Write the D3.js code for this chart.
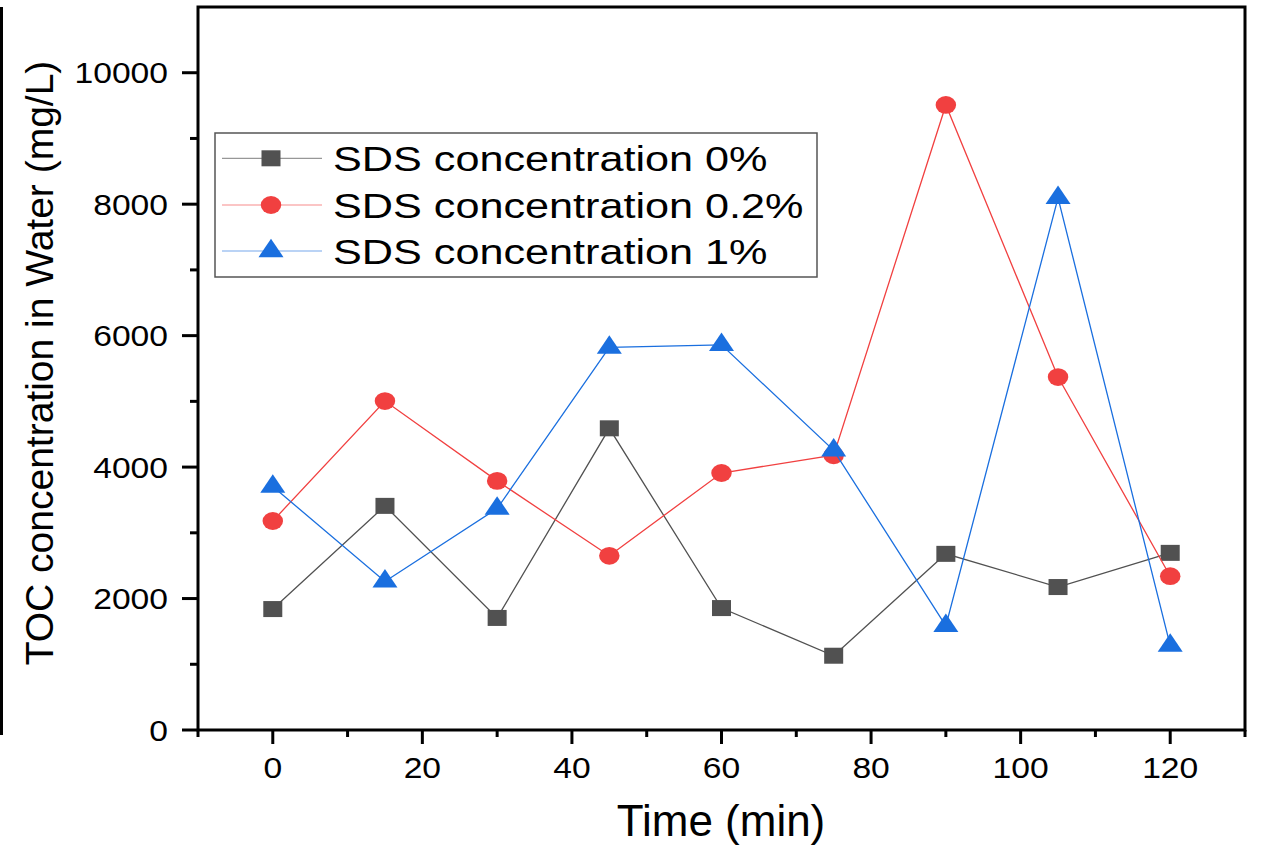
<!DOCTYPE html>
<html>
<head>
<meta charset="utf-8">
<script src="https://cdn.jsdelivr.net/npm/d3@7"></script>
<style>
  html, body { margin: 0; padding: 0; background: #fff; }
  svg { display: block; }
  text { font-family: "Liberation Sans", Arial, sans-serif; fill: #000; }
</style>
</head>
<body>
<svg id="chart" width="1261" height="847"></svg>
<script>
// Sampling times (min)
const times = [0, 15, 30, 45, 60, 75, 90, 105, 120];

// TOC concentration in water (mg/L) for each SDS dose
const sds0  = [1840, 3410, 1705, 4590, 1855, 1130, 2680, 2175, 2695];
const sds02 = [3180, 5005, 3790, 2650, 3910, 4180, 9510, 5370, 2340];
const sds1  = [3705, 2260, 3370, 5820, 5860, 4255, 1585, 8095, 1285];

const seriesNames = ["SDS concentration 0%", "SDS concentration 0.2%", "SDS concentration 1%"];

// Axis ticks
const xMajorTicks = [0, 20, 40, 60, 80, 100, 120];
const xMinorTicks = [-10, 10, 30, 50, 70, 90, 110, 130];
const yMajorTicks = [0, 2000, 4000, 6000, 8000, 10000];
const yMinorTicks = [1000, 3000, 5000, 7000, 9000];

const axisTitleX = "Time (min)";
const axisTitleY = "TOC concentration in Water (mg/L)";

const series = [
  { name: seriesNames[0], values: sds0,  color: "#515151", shape: "square" },
  { name: seriesNames[1], values: sds02, color: "#F14040", shape: "circle" },
  { name: seriesNames[2], values: sds1,  color: "#1A6FDF", shape: "triangle" }
];

const svg = d3.select("#chart");
const plotLeft = 198, plotRight = 1245, plotTop = 7, plotBottom = 730;

const x = d3.scaleLinear().domain([-10, 130]).range([plotLeft, plotRight]);
const y = d3.scaleLinear().domain([0, 11000]).range([plotBottom, plotTop]);

// Marker drawing helper (shapes are slightly wider than tall)
function drawMarker(g, shape, color, w, h) {
  if (shape === "square") {
    g.append("rect").attr("x", -w / 2).attr("y", -h / 2)
      .attr("width", w).attr("height", h).attr("fill", color);
  } else if (shape === "circle") {
    g.append("ellipse").attr("rx", w / 2).attr("ry", h / 2).attr("fill", color);
  } else {
    // centroid sits at two thirds of the height
    const p = d3.path();
    p.moveTo(0, -h * 2 / 3);
    p.lineTo(w / 2, h / 3);
    p.lineTo(-w / 2, h / 3);
    p.closePath();
    g.append("path").attr("d", p.toString()).attr("fill", color);
  }
}

const markerSize = { square: [19, 16], circle: [20.5, 17.8], triangle: [25, 18.5] };

// Frame on the left edge
svg.append("line").attr("x1", 1.5).attr("x2", 1.5).attr("y1", 7).attr("y2", 735)
  .attr("stroke", "#000").attr("stroke-width", 3);

// Series lines and markers
const plot = svg.append("g");
const line = d3.line().x((d, i) => x(times[i])).y(d => y(d));
series.forEach(s => {
  plot.append("path").datum(s.values)
    .attr("d", line).attr("fill", "none")
    .attr("stroke", s.color).attr("stroke-width", 1.3);
  const [w, h] = markerSize[s.shape];
  plot.selectAll(null).data(s.values).enter().append("g")
    .attr("transform", (d, i) => `translate(${x(times[i])},${y(d)})`)
    .each(function () { drawMarker(d3.select(this), s.shape, s.color, w, h); });
});

// Axes and frame
const axes = svg.append("g").attr("stroke", "#000").attr("stroke-width", 3).attr("fill", "none");
axes.append("path").attr("d", `M${plotLeft},${plotBottom}V${plotTop}H${plotRight}V${plotBottom}Z`)
  .attr("stroke-linejoin", "miter");

// Y ticks
axes.selectAll(null).data(yMajorTicks).enter().append("line")
  .attr("x1", plotLeft - 16).attr("x2", plotLeft).attr("y1", d => y(d)).attr("y2", d => y(d));
axes.selectAll(null).data(yMinorTicks).enter().append("line")
  .attr("x1", plotLeft - 8).attr("x2", plotLeft).attr("y1", d => y(d)).attr("y2", d => y(d));
// X ticks
axes.selectAll(null).data(xMajorTicks).enter().append("line")
  .attr("x1", d => x(d)).attr("x2", d => x(d)).attr("y1", plotBottom).attr("y2", plotBottom + 14);
axes.selectAll(null).data(xMinorTicks).enter().append("line")
  .attr("x1", d => x(d)).attr("x2", d => x(d)).attr("y1", plotBottom).attr("y2", plotBottom + 7);

// Tick labels
const tickFont = 29, tickStretch = 1.16;
svg.selectAll(null).data(yMajorTicks).enter().append("text")
  .attr("transform", d => `translate(${plotLeft - 30},${y(d) + 10.5}) scale(${tickStretch},1)`)
  .attr("text-anchor", "end").attr("font-size", tickFont)
  .text(d => d);
svg.selectAll(null).data(xMajorTicks).enter().append("text")
  .attr("transform", d => `translate(${x(d)},${778}) scale(${tickStretch},1)`)
  .attr("text-anchor", "middle").attr("font-size", tickFont)
  .text(d => d);

// Axis titles
svg.append("text").attr("x", 721).attr("y", 836)
  .attr("text-anchor", "middle").attr("font-size", 44).text(axisTitleX);
svg.append("text")
  .attr("transform", `translate(53,363) rotate(-90)`)
  .attr("text-anchor", "middle").attr("font-size", 39).text(axisTitleY);

// Legend
const legend = svg.append("g");
legend.append("rect").attr("x", 215).attr("y", 133).attr("width", 602).attr("height", 144)
  .attr("fill", "#fff").attr("stroke", "#555").attr("stroke-width", 1.5);
const rowY = [158.3, 205, 251];
series.forEach((s, i) => {
  const g = legend.append("g").attr("transform", `translate(0,${rowY[i]})`);
  g.append("line").attr("x1", 222).attr("x2", 322).attr("y1", 0).attr("y2", 0)
    .attr("stroke", s.color).attr("stroke-width", 1.2).attr("stroke-opacity", 0.6);
  const [w, h] = markerSize[s.shape];
  drawMarker(g.append("g").attr("transform", "translate(271,0)"), s.shape, s.color, w, h);
  g.append("text").attr("transform", `translate(333,13) scale(1.2,1)`)
    .attr("font-size", 36).text(s.name);
});
</script>
</body>
</html>
